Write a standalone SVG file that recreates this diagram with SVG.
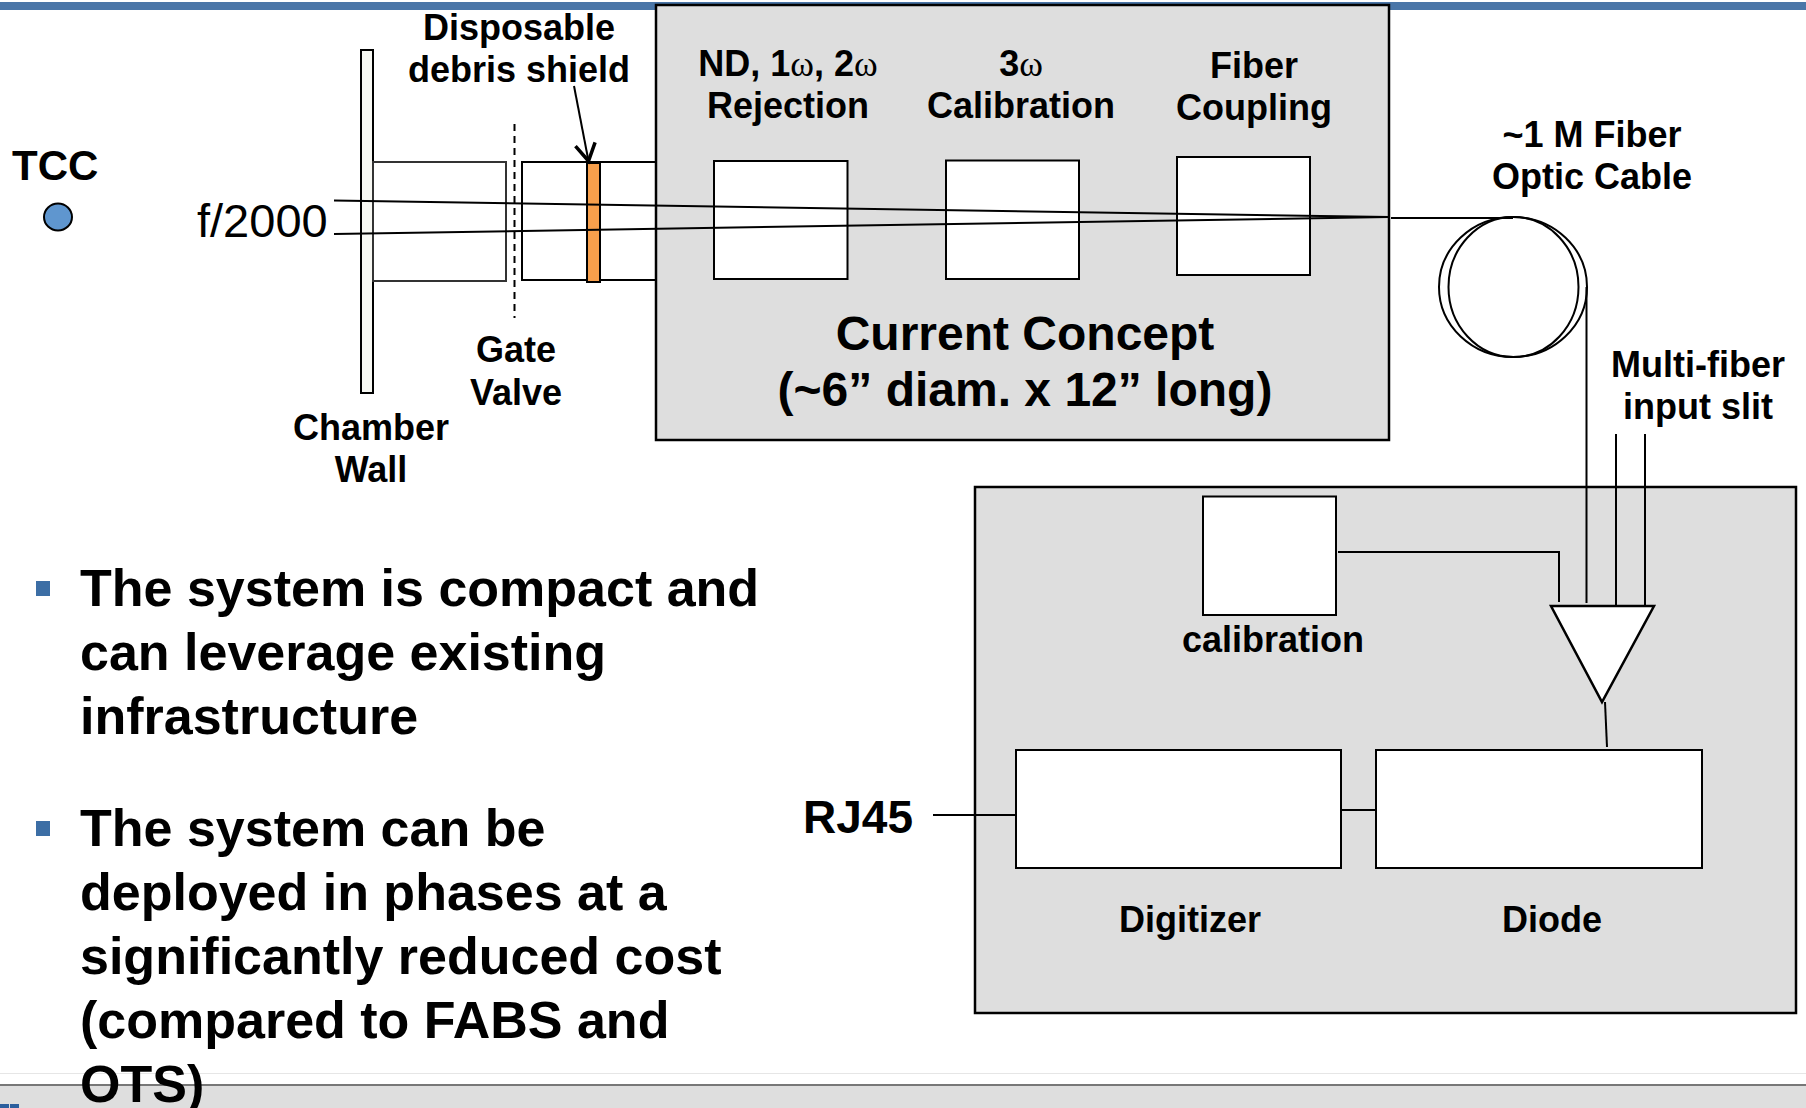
<svg xmlns="http://www.w3.org/2000/svg" width="1806" height="1108" viewBox="0 0 1806 1108">
<style>
text{font-family:"Liberation Sans",Arial,sans-serif;fill:#000;font-weight:700}
.l{font-size:36px;text-anchor:middle}
.b{font-size:52px}
.c{font-size:48px;text-anchor:middle}
.w{font-family:"Liberation Serif",serif;font-weight:400}
.box{fill:#fff;stroke:#000;stroke-width:2}
.panel{fill:#dedede;stroke:#000;stroke-width:2.5}
.ln{fill:none;stroke:#000;stroke-width:2}
</style>
<defs><marker id="v" markerUnits="userSpaceOnUse" markerWidth="26" markerHeight="26" refX="20" refY="13" orient="auto"><path d="M3 3 L20 13 L3 23" fill="none" stroke="#000" stroke-width="3.5"/></marker></defs>
<rect width="1806" height="1108" fill="#fff"/>
<rect id="top-bar" x="0" y="2" width="1806" height="8" fill="#4a76a8"/>
<g id="footer">
<rect x="0" y="1073" width="1806" height="1" fill="#e6e6e6"/>
<rect x="0" y="1084" width="1806" height="24" fill="#dedede"/>
<rect x="0" y="1084" width="1806" height="2" fill="#777"/>
<rect x="0" y="1104" width="9" height="4" fill="#2c5f9e"/><rect x="10" y="1104" width="9" height="4" fill="#2c5f9e"/>
</g>
<g id="chamber-wall"><rect x="361" y="50" width="12" height="343" fill="#f7f8f3" stroke="#000" stroke-width="2"/></g>
<g id="tube-1"><rect x="373" y="162" width="133" height="119" fill="#fff" stroke="#333" stroke-width="2"/></g>
<g id="tube-2"><rect x="522" y="162" width="134" height="118" fill="#fff" stroke="#000" stroke-width="2"/></g>
<g id="gate-valve"><line x1="514.500" y1="124" x2="514.500" y2="318" stroke="#000" stroke-width="2" stroke-dasharray="7 5"/></g>
<g id="main-panel"><rect class="panel" x="656" y="5" width="733" height="435"/></g>
<g id="box-rejection"><rect class="box" x="714" y="161" width="133.500" height="118"/></g>
<g id="box-calibration-3w"><rect class="box" x="946" y="160.500" width="133" height="118.500"/></g>
<g id="box-fiber-coupling"><rect class="box" x="1177" y="157" width="133" height="118"/></g>
<g id="shield"><rect x="587" y="163" width="13" height="119" fill="#f79f4c" stroke="#000" stroke-width="2"/></g>
<g id="tcc"><ellipse cx="58" cy="217" rx="14" ry="13.500" fill="#5f96cf" stroke="#000" stroke-width="2"/><text x="12" y="180" font-size="42">TCC</text></g>
<g id="coil"><ellipse class="ln" cx="1513" cy="287" rx="74" ry="70"/><ellipse class="ln" cx="1513.500" cy="287" rx="65" ry="70"/></g>
<g id="lower-panel"><rect class="panel" x="975" y="487" width="821" height="526"/></g>
<g id="box-cal"><rect class="box" x="1203" y="496.500" width="133" height="118.500"/></g>
<g id="digitizer"><rect class="box" x="1016" y="750" width="325" height="118"/></g>
<g id="diode"><rect class="box" x="1376" y="750" width="326" height="118"/></g>
<g id="connectors">
<line class="ln" x1="334" y1="200.500" x2="1389" y2="217"/>
<line class="ln" x1="334" y1="234" x2="1389" y2="217"/>
<line class="ln" x1="1391" y1="218" x2="1513" y2="218"/>
<line class="ln" x1="574" y1="86" x2="588.500" y2="161" marker-end="url(#v)"/>
<line class="ln" x1="1586.500" y1="287" x2="1586.500" y2="603"/>
<line class="ln" x1="1616" y1="434" x2="1616" y2="606"/>
<line class="ln" x1="1645" y1="434" x2="1645" y2="606"/>
<path class="ln" d="M1338 552H1559V602"/>
<line class="ln" x1="1605" y1="702" x2="1607" y2="747"/>
<line class="ln" x1="1341" y1="810" x2="1376" y2="810"/>
<line class="ln" x1="933" y1="815" x2="1016" y2="815"/>
</g>
<g id="amp"><path d="M1551 606H1654L1602 702Z" fill="#fff" stroke="#000" stroke-width="2.500"/></g>
<g id="labels">
<text class="l" x="519" y="40">Disposable</text>
<text class="l" x="519" y="82">debris shield</text>
<text x="197" y="237" font-size="47" font-weight="400" style="font-weight:400">f/2000</text>
<text class="l" x="516" y="362">Gate</text>
<text class="l" x="516" y="405">Valve</text>
<text class="l" x="371" y="440">Chamber</text>
<text class="l" x="371" y="482">Wall</text>
<text class="l" x="788" y="76">ND, 1<tspan class="w">ω</tspan>, 2<tspan class="w">ω</tspan></text>
<text class="l" x="788" y="118">Rejection</text>
<text class="l" x="1021" y="76">3<tspan class="w">ω</tspan></text>
<text class="l" x="1021" y="118">Calibration</text>
<text class="l" x="1254" y="78">Fiber</text>
<text class="l" x="1254" y="120">Coupling</text>
<text class="c" x="1025" y="350">Current Concept</text>
<text class="c" x="1025" y="406">(~6” diam. x 12” long)</text>
<text class="l" x="1592" y="147">~1 M Fiber</text>
<text class="l" x="1592" y="189">Optic Cable</text>
<text class="l" x="1698" y="377">Multi-fiber</text>
<text class="l" x="1698" y="419">input slit</text>
<text class="l" x="1273" y="652">calibration</text>
<text class="l" x="1190" y="932">Digitizer</text>
<text class="l" x="1552" y="932">Diode</text>
<text x="803" y="833" font-size="46">RJ45</text>
</g>
<g id="bullets">
<rect x="36" y="581" width="14" height="15" fill="#3c6ea5"/>
<rect x="36" y="821" width="14" height="15" fill="#3c6ea5"/>
<text class="b" x="80" y="606">The system is compact and</text>
<text class="b" x="80" y="670">can leverage existing</text>
<text class="b" x="80" y="734">infrastructure</text>
<text class="b" x="80" y="846">The system can be</text>
<text class="b" x="80" y="910">deployed in phases at a</text>
<text class="b" x="80" y="974">significantly reduced cost</text>
<text class="b" x="80" y="1038">(compared to FABS and</text>
<text class="b" x="80" y="1102">OTS)</text>
</g>
</svg>
